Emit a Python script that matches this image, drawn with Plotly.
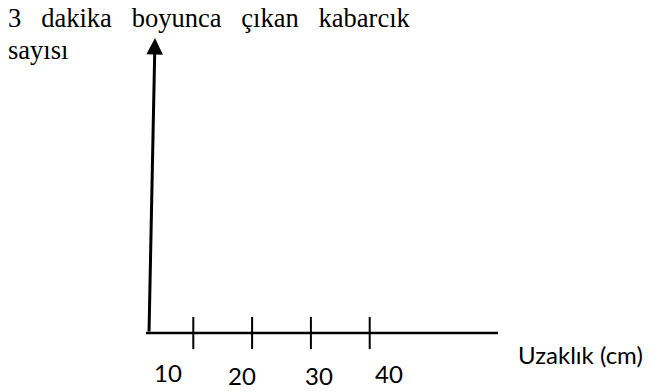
import plotly.graph_objects as go

# ---- data ----
tick_values = [10, 20, 30, 40]
tick_labels = ["10", "20", "30", "40"]
x_title = "Uzaklık (cm)"
y_title_words = ["3", "dakika", "boyunca", "çıkan", "kabarcık"]
y_title_line2 = "sayısı"

# ---- layout geometry (styles / positions) ----
W, H = 651, 392
PX0, PXU = 134.5, 5.88          # pixel of value 0, pixels per cm on the sketch axis
x_range = [(0 - PX0) / PXU, (W - PX0) / PXU]
Y0PX, Y1PX = 333, 38             # pixel rows of the horizontal axis and the arrow tip
ypu = Y0PX - Y1PX
y_range = [-(H - Y0PX) / ypu, Y0PX / ypu]

def xv(px):
    return (px - PX0) / PXU

def py(px):
    return 1 - px / H

label_dx = [-25, -10, 8, 19]
label_dy = [-39, -42, -42, -40]

fig = go.Figure()

# tick marks crossing the horizontal axis
fig.add_trace(go.Scatter(
    x=tick_values, y=[0] * len(tick_values), mode="markers",
    marker=dict(symbol="line-ns", size=23, color="black",
                line=dict(width=2, color="black")),
    hoverinfo="skip", showlegend=False))

shapes = [dict(type="line", xref="x", yref="y", x0=xv(146), x1=xv(498), y0=0, y1=0,
               line=dict(color="black", width=2.5))]

annotations = []
# vertical axis with arrowhead
annotations.append(dict(x=xv(155), y=1, ax=xv(149), ay=0, xref="x", yref="y",
                        axref="x", ayref="y", text="", showarrow=True,
                        arrowhead=2, arrowsize=1.1, arrowwidth=3, arrowcolor="black",
                        standoff=0, startstandoff=0))

for v, lab, dx, dy in zip(tick_values, tick_labels, label_dx, label_dy):
    annotations.append(dict(x=v, y=0, xref="x", yref="y", text=lab, showarrow=False,
                            xshift=dx, yshift=dy, xanchor="center", yanchor="middle",
                            font=dict(family="Lato", size=24, color="black")))

annotations.append(dict(x=516 / W, y=py(354), xref="paper", yref="paper", text=x_title,
                        showarrow=False, xanchor="left", yanchor="middle",
                        font=dict(family="Lato", size=24, color="black")))

serif = dict(family="Liberation Serif", size=26.5, color="black")
sep = " \u00a0\u00a0"
annotations.append(dict(x=6 / W, y=py(18), xref="paper", yref="paper",
                        text=sep.join(y_title_words), showarrow=False,
                        xanchor="left", yanchor="middle", font=serif))
annotations.append(dict(x=6 / W, y=py(50), xref="paper", yref="paper",
                        text=y_title_line2, showarrow=False,
                        xanchor="left", yanchor="middle", font=serif))

fig.update_layout(
    width=W, height=H, margin=dict(l=0, r=0, t=0, b=0),
    paper_bgcolor="white", plot_bgcolor="white",
    xaxis=dict(range=x_range, visible=False, fixedrange=True),
    yaxis=dict(range=y_range, visible=False, fixedrange=True),
    shapes=shapes, annotations=annotations, showlegend=False)

fig.write_html("out.html", config={"displayModeBar": False},
               post_script="document.body.style.margin='0';document.body.style.overflow='hidden';")
